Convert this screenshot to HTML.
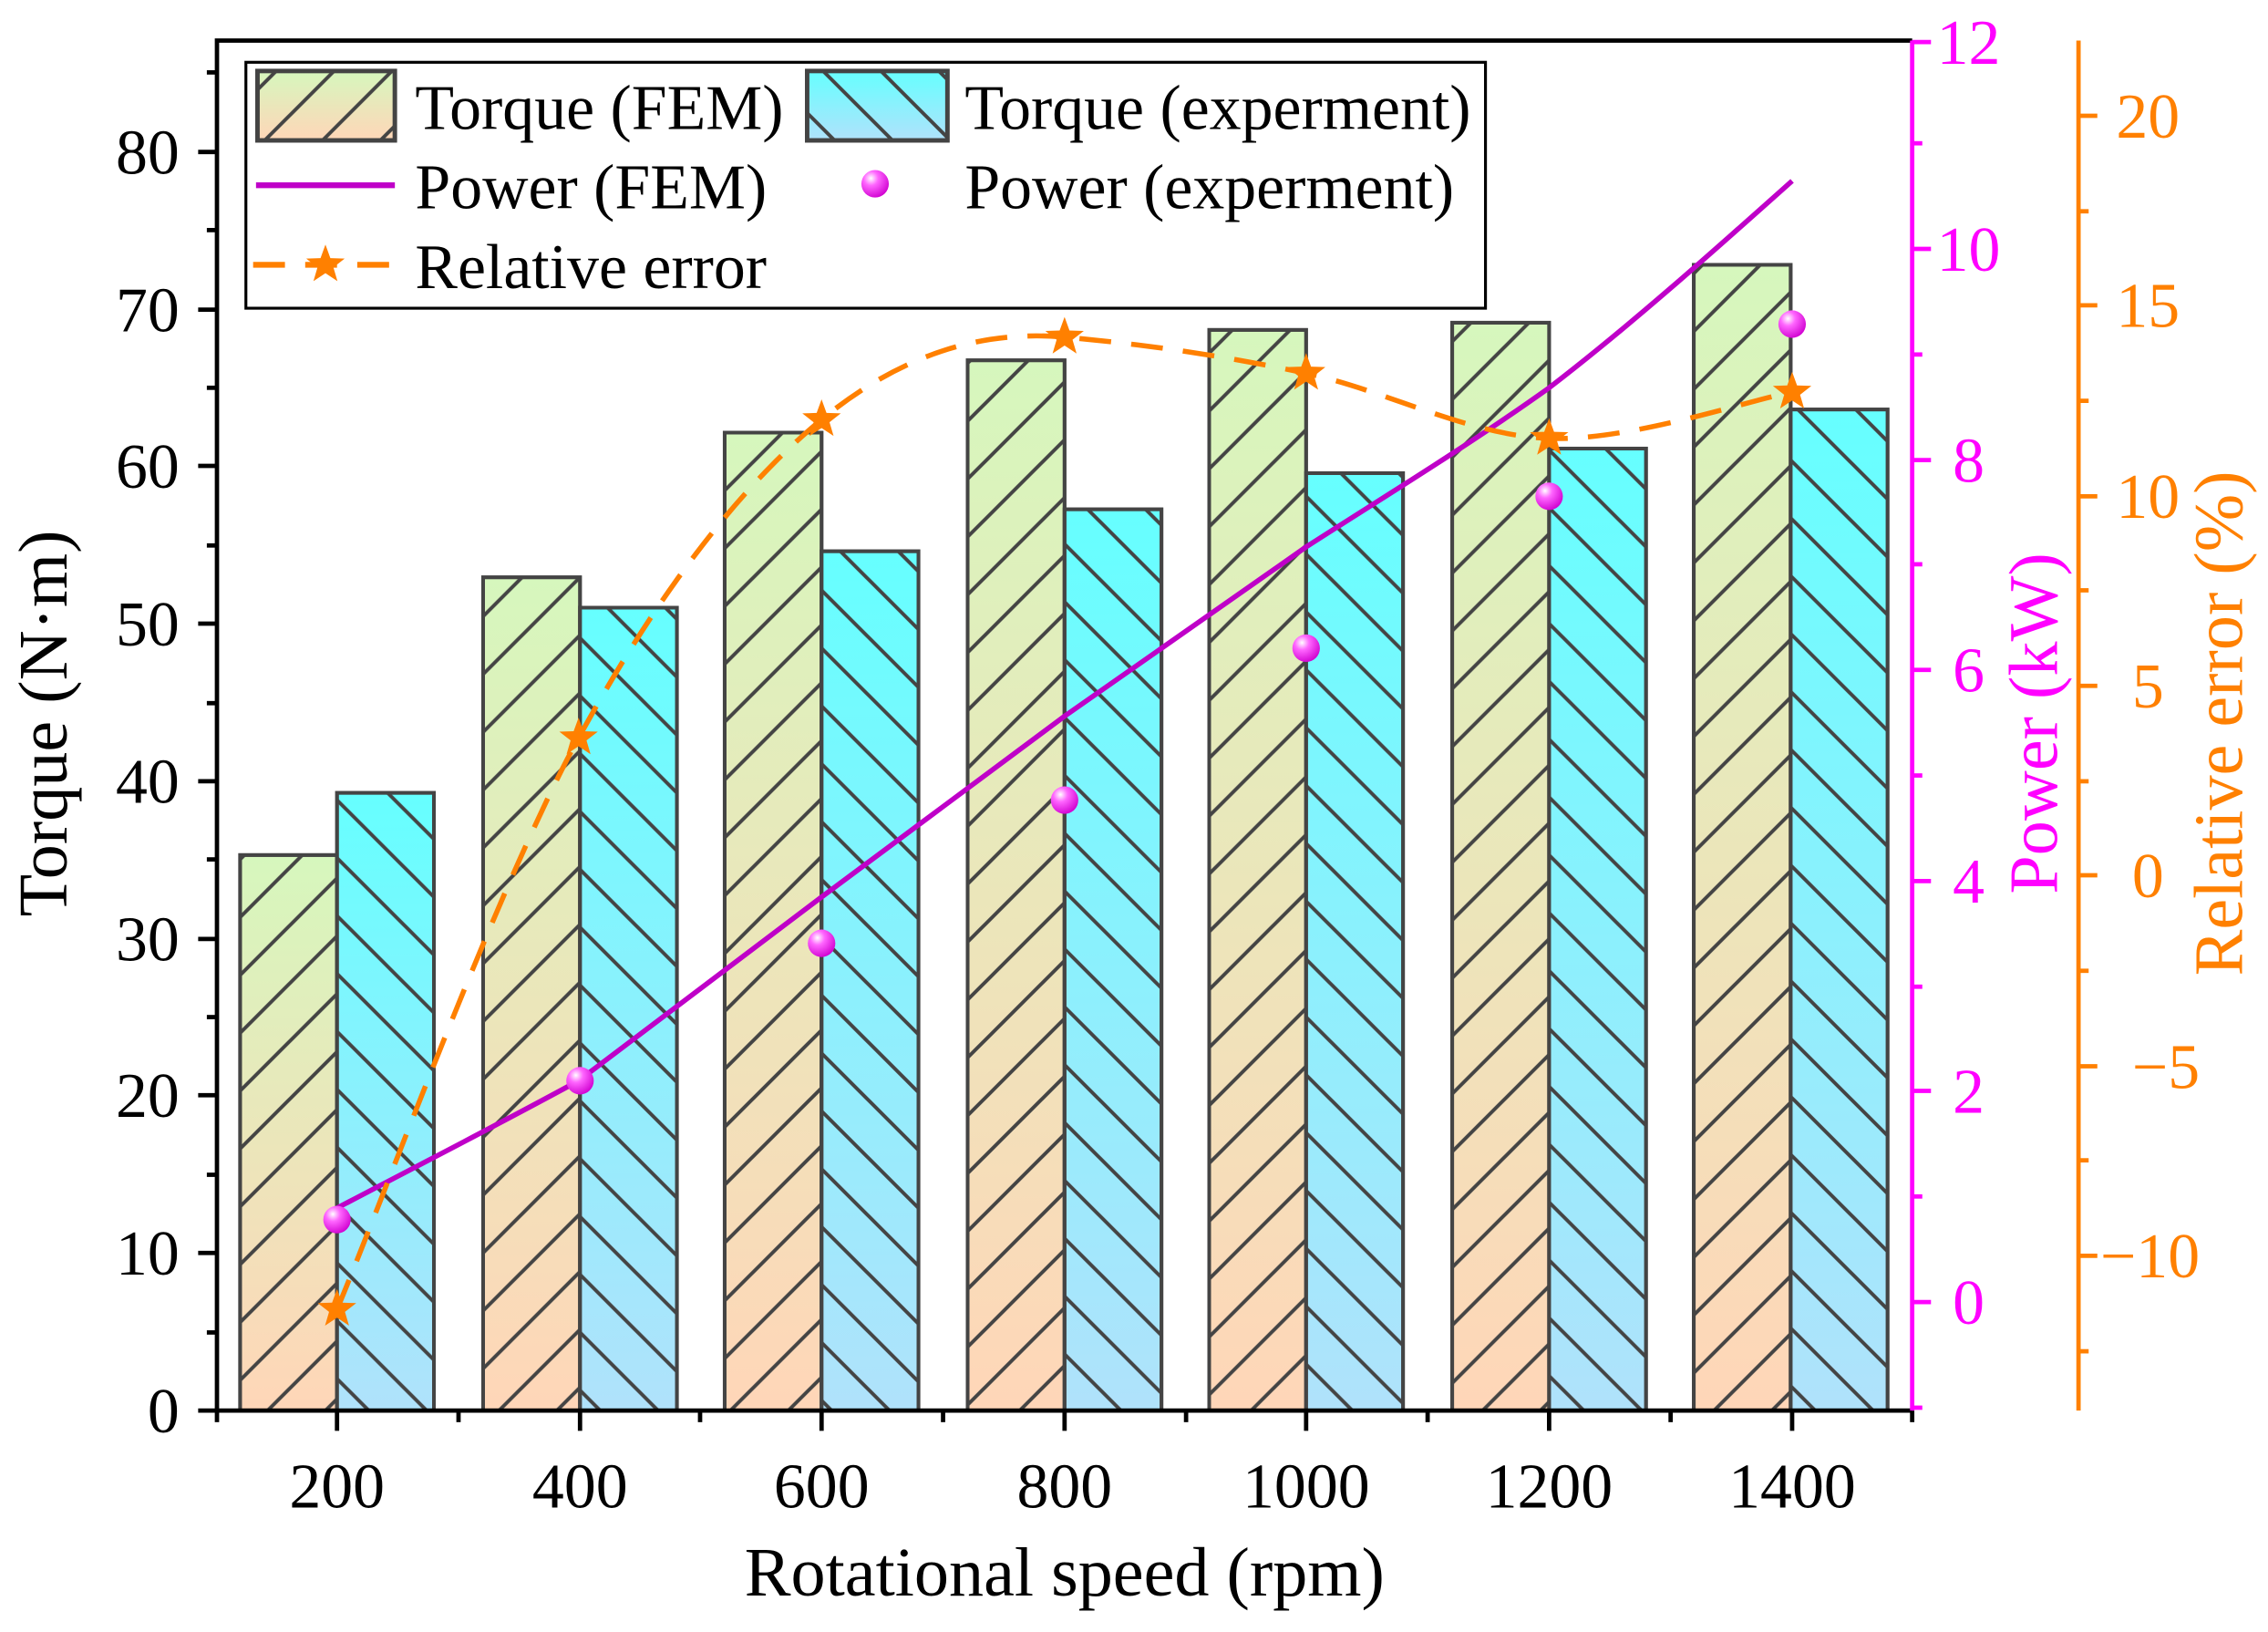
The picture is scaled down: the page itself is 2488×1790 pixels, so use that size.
<!DOCTYPE html>
<html><head><meta charset="utf-8"><style>html,body{margin:0;padding:0;background:#fff}svg{display:block}</style></head><body>
<svg width="2488" height="1790" viewBox="0 0 1568 1128" xmlns="http://www.w3.org/2000/svg" font-family="'Liberation Serif', serif">
<defs>
<linearGradient id="gF" x1="0" y1="0" x2="0" y2="1"><stop offset="0" stop-color="#d6f7bd"/><stop offset="1" stop-color="#ffd6b8"/></linearGradient>
<linearGradient id="gE" x1="0" y1="0" x2="0" y2="1"><stop offset="0" stop-color="#66ffff"/><stop offset="1" stop-color="#b0e2fb"/></linearGradient>
<pattern id="hF" patternUnits="userSpaceOnUse" width="40" height="40"><path d="M-10,10 L10,-10 M0,40 L40,0 M30,50 L50,30" stroke="#444" stroke-width="2.5"/></pattern>
<pattern id="hE" patternUnits="userSpaceOnUse" width="40" height="40"><path d="M-10,30 L10,50 M0,0 L40,40 M30,-10 L50,10" stroke="#444" stroke-width="2.5"/></pattern>
<radialGradient id="sp" cx="0.35" cy="0.3" r="0.75"><stop offset="0" stop-color="#fff"/><stop offset="0.35" stop-color="#ff66ff"/><stop offset="1" stop-color="#d000d0"/></radialGradient>
<path id="star" d="M0,-14 L3.4,-4.6 L13.3,-4.3 L5.5,1.8 L8.3,11.3 L0,5.8 L-8.3,11.3 L-5.5,1.8 L-13.3,-4.3 L-3.4,-4.6 Z" fill="#ff8000"/>
</defs>
<g stroke="#444" stroke-width="2.5">
<rect x="166" y="591" width="67" height="384" fill="url(#gF)"/><rect x="166" y="591" width="67" height="384" fill="url(#hF)"/>
<rect x="233" y="548" width="67" height="427" fill="url(#gE)"/><rect x="233" y="548" width="67" height="427" fill="url(#hE)"/>
<rect x="334" y="399" width="67" height="576" fill="url(#gF)"/><rect x="334" y="399" width="67" height="576" fill="url(#hF)"/>
<rect x="401" y="420" width="67" height="555" fill="url(#gE)"/><rect x="401" y="420" width="67" height="555" fill="url(#hE)"/>
<rect x="501" y="299" width="67" height="676" fill="url(#gF)"/><rect x="501" y="299" width="67" height="676" fill="url(#hF)"/>
<rect x="568" y="381" width="67" height="594" fill="url(#gE)"/><rect x="568" y="381" width="67" height="594" fill="url(#hE)"/>
<rect x="669" y="249" width="67" height="726" fill="url(#gF)"/><rect x="669" y="249" width="67" height="726" fill="url(#hF)"/>
<rect x="736" y="352" width="67" height="623" fill="url(#gE)"/><rect x="736" y="352" width="67" height="623" fill="url(#hE)"/>
<rect x="836" y="228" width="67" height="747" fill="url(#gF)"/><rect x="836" y="228" width="67" height="747" fill="url(#hF)"/>
<rect x="903" y="327" width="67" height="648" fill="url(#gE)"/><rect x="903" y="327" width="67" height="648" fill="url(#hE)"/>
<rect x="1004" y="223" width="67" height="752" fill="url(#gF)"/><rect x="1004" y="223" width="67" height="752" fill="url(#hF)"/>
<rect x="1071" y="310" width="67" height="665" fill="url(#gE)"/><rect x="1071" y="310" width="67" height="665" fill="url(#hE)"/>
<rect x="1171" y="183" width="67" height="792" fill="url(#gF)"/><rect x="1171" y="183" width="67" height="792" fill="url(#hF)"/>
<rect x="1238" y="283" width="67" height="692" fill="url(#gE)"/><rect x="1238" y="283" width="67" height="692" fill="url(#hE)"/>
</g>
<path d="M233,835 C290,805 345,777 400,747 C456,705 512,662 568,620 C624,578 680,537 736,495 C792,456 847,417 903,378 C959,342 1015,308 1071,268 C1127,225 1183,175 1239,125" fill="none" stroke="#bf00c8" stroke-width="3.5"/>
<path d="M233,905 C261,839 344,612 400,510 C456,408 512,336 568,290 C624,244 680,228 736,233 C792,238 847,246 903,258 C959,270 1015,301 1071,303 C1127,305 1211,276 1239,271" fill="none" stroke="#ff8000" stroke-width="3.5" stroke-dasharray="22,14"/>
<g>
<use href="#star" x="233" y="905"/><use href="#star" x="400" y="510"/><use href="#star" x="568" y="290"/><use href="#star" x="736" y="233"/><use href="#star" x="903" y="258"/><use href="#star" x="1071" y="303"/><use href="#star" x="1239" y="271"/>
</g>
<g fill="url(#sp)">
<circle cx="233" cy="843" r="9.5"/><circle cx="401" cy="747" r="9.5"/><circle cx="568" cy="652" r="9.5"/><circle cx="736" cy="553" r="9.5"/><circle cx="903" cy="448" r="9.5"/><circle cx="1071" cy="343" r="9.5"/><circle cx="1239" cy="224" r="9.5"/>
</g>
<path d="M150,975 L150,28 L1322,28" fill="none" stroke="#000" stroke-width="3"/>
<line x1="148.5" y1="975" x2="1322" y2="975" stroke="#000" stroke-width="3"/>
<g stroke="#000" stroke-width="3">
<line x1="137" y1="975" x2="150" y2="975"/><line x1="137" y1="866" x2="150" y2="866"/><line x1="137" y1="757" x2="150" y2="757"/><line x1="137" y1="649" x2="150" y2="649"/><line x1="137" y1="540" x2="150" y2="540"/><line x1="137" y1="431" x2="150" y2="431"/><line x1="137" y1="322" x2="150" y2="322"/><line x1="137" y1="214" x2="150" y2="214"/><line x1="137" y1="105" x2="150" y2="105"/>
<line x1="143" y1="921" x2="150" y2="921"/><line x1="143" y1="812" x2="150" y2="812"/><line x1="143" y1="703" x2="150" y2="703"/><line x1="143" y1="594" x2="150" y2="594"/><line x1="143" y1="486" x2="150" y2="486"/><line x1="143" y1="377" x2="150" y2="377"/><line x1="143" y1="268" x2="150" y2="268"/><line x1="143" y1="159" x2="150" y2="159"/><line x1="143" y1="50" x2="150" y2="50"/>
</g>
<g font-size="44" text-anchor="end">
<text x="124" y="990">0</text><text x="124" y="881">10</text><text x="124" y="772">20</text><text x="124" y="664">30</text><text x="124" y="555">40</text><text x="124" y="446">50</text><text x="124" y="337">60</text><text x="124" y="229">70</text><text x="124" y="120">80</text>
</g>
<g stroke="#000" stroke-width="3">
<line x1="233" y1="975" x2="233" y2="989"/><line x1="401" y1="975" x2="401" y2="989"/><line x1="568" y1="975" x2="568" y2="989"/><line x1="736" y1="975" x2="736" y2="989"/><line x1="903" y1="975" x2="903" y2="989"/><line x1="1071" y1="975" x2="1071" y2="989"/><line x1="1239" y1="975" x2="1239" y2="989"/>
<line x1="150" y1="975" x2="150" y2="983"/><line x1="317" y1="975" x2="317" y2="983"/><line x1="484" y1="975" x2="484" y2="983"/><line x1="652" y1="975" x2="652" y2="983"/><line x1="820" y1="975" x2="820" y2="983"/><line x1="987" y1="975" x2="987" y2="983"/><line x1="1155" y1="975" x2="1155" y2="983"/><line x1="1322" y1="975" x2="1322" y2="983"/>
</g>
<g font-size="44" text-anchor="middle">
<text x="233" y="1042">200</text><text x="401" y="1042">400</text><text x="568" y="1042">600</text><text x="736" y="1042">800</text><text x="903" y="1042">1000</text><text x="1071" y="1042">1200</text><text x="1239" y="1042">1400</text>
</g>
<text x="736" y="1103" font-size="48" text-anchor="middle">Rotational speed (rpm)</text>
<text transform="translate(46,500) rotate(-90)" font-size="48" text-anchor="middle">Torque (N·m)</text>
<g stroke="#ff00ff" stroke-width="3">
<line x1="1322" y1="28" x2="1322" y2="975"/>
<line x1="1322" y1="900" x2="1335" y2="900"/><line x1="1322" y1="754" x2="1335" y2="754"/><line x1="1322" y1="609" x2="1335" y2="609"/><line x1="1322" y1="463" x2="1335" y2="463"/><line x1="1322" y1="318" x2="1335" y2="318"/><line x1="1322" y1="172" x2="1335" y2="172"/><line x1="1322" y1="29" x2="1335" y2="29"/>
<line x1="1322" y1="827" x2="1329" y2="827"/><line x1="1322" y1="682" x2="1329" y2="682"/><line x1="1322" y1="536" x2="1329" y2="536"/><line x1="1322" y1="390" x2="1329" y2="390"/><line x1="1322" y1="245" x2="1329" y2="245"/><line x1="1322" y1="99" x2="1329" y2="99"/><line x1="1322" y1="973" x2="1329" y2="973"/>
</g>
<g font-size="44" fill="#ff00ff" text-anchor="start">
<text x="1350" y="915">0</text><text x="1350" y="769">2</text><text x="1350" y="624">4</text><text x="1350" y="478">6</text><text x="1350" y="333">8</text><text x="1339" y="187">10</text><text x="1339" y="44">12</text>
</g>
<text transform="translate(1422,500) rotate(-90)" font-size="48" fill="#ff00ff" text-anchor="middle">Power (kW)</text>
<g stroke="#ff8000" stroke-width="3">
<line x1="1437" y1="28" x2="1437" y2="975"/>
<line x1="1437" y1="868" x2="1450" y2="868"/><line x1="1437" y1="737" x2="1450" y2="737"/><line x1="1437" y1="605" x2="1450" y2="605"/><line x1="1437" y1="474" x2="1450" y2="474"/><line x1="1437" y1="343" x2="1450" y2="343"/><line x1="1437" y1="211" x2="1450" y2="211"/><line x1="1437" y1="80" x2="1450" y2="80"/>
<line x1="1437" y1="934" x2="1444" y2="934"/><line x1="1437" y1="802" x2="1444" y2="802"/><line x1="1437" y1="671" x2="1444" y2="671"/><line x1="1437" y1="540" x2="1444" y2="540"/><line x1="1437" y1="408" x2="1444" y2="408"/><line x1="1437" y1="277" x2="1444" y2="277"/><line x1="1437" y1="146" x2="1444" y2="146"/>
</g>
<g font-size="44" fill="#ff8000" text-anchor="start">
<text x="1452" y="883">−10</text><text x="1474" y="752">−5</text><text x="1474" y="620">0</text><text x="1474" y="489">5</text><text x="1463" y="358">10</text><text x="1463" y="226">15</text><text x="1463" y="95">20</text>
</g>
<text transform="translate(1550,500) rotate(-90)" font-size="48" fill="#ff8000" text-anchor="middle">Relative error (%)</text>
<rect x="170" y="43" width="857" height="170" fill="#fff" stroke="#000" stroke-width="2"/>
<rect x="178" y="49" width="95" height="48" fill="url(#gF)" stroke="#444" stroke-width="3"/><rect x="178" y="49" width="95" height="48" fill="url(#hF)" stroke="#444" stroke-width="3"/>
<rect x="558" y="49" width="97" height="48" fill="url(#gE)" stroke="#444" stroke-width="3"/><rect x="558" y="49" width="97" height="48" fill="url(#hE)" stroke="#444" stroke-width="3"/>
<line x1="177" y1="128" x2="273" y2="128" stroke="#bf00c8" stroke-width="4"/>
<circle cx="605" cy="127" r="9.5" fill="url(#sp)"/>
<line x1="175" y1="183" x2="275" y2="183" stroke="#ff8000" stroke-width="4" stroke-dasharray="22,14"/>
<use href="#star" x="225" y="183"/>
<g font-size="44">
<text x="287" y="89">Torque (FEM)</text><text x="667" y="89">Torque (experment)</text>
<text x="287" y="144">Power (FEM)</text><text x="667" y="144">Power (experment)</text>
<text x="287" y="199">Relative error</text>
</g>
</svg>
</body></html>
